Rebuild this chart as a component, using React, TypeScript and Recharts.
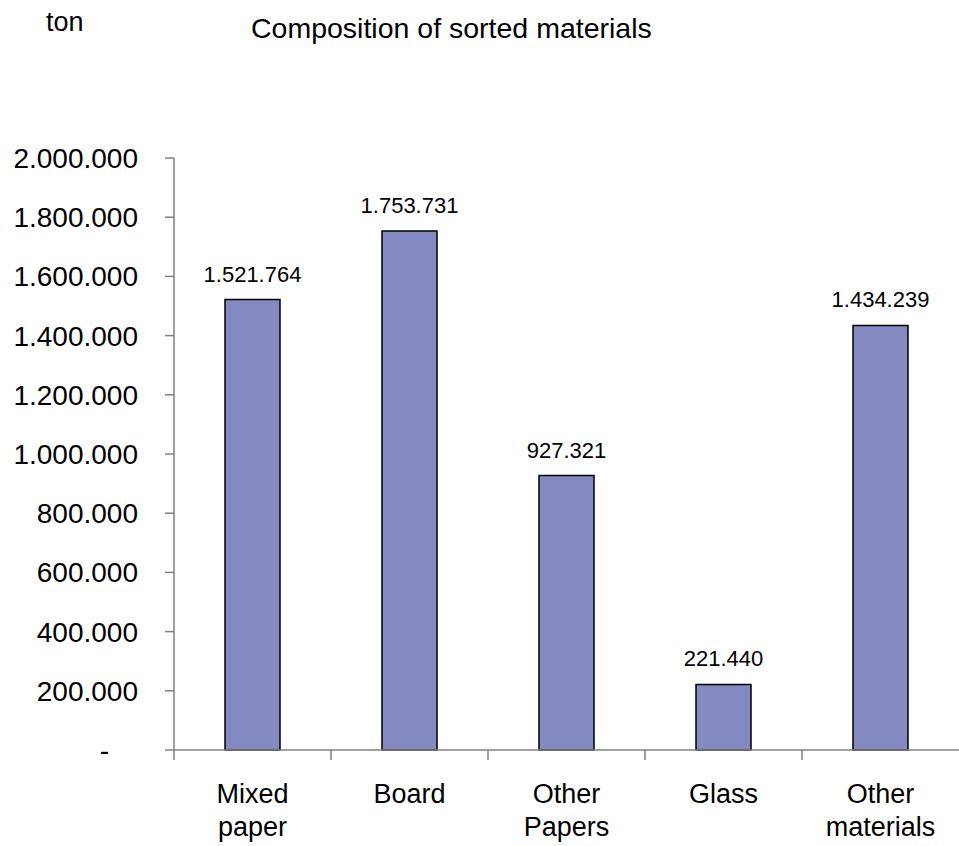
import { BarChart, Bar, XAxis, YAxis, LabelList } from 'recharts';

const categories = ['Mixed\npaper', 'Board', 'Other\nPapers', 'Glass', 'Other\nmaterials'];
const tonnes = [1521764, 1753731, 927321, 221440, 1434239];
const yTicks = [0, 200000, 400000, 600000, 800000, 1000000, 1200000, 1400000, 1600000, 1800000, 2000000];

const data = categories.map((name, i) => ({ name, value: tonnes[i] }));

const FONT = '"Liberation Sans", Arial, sans-serif';

const fmt = (v: number) => (v === 0 ? '-' : Math.round(v).toString().replace(/\B(?=(\d{3})+(?!\d))/g, '.'));

const YTick = ({ x, y, payload }: any) => {
  const v = payload.value as number;
  return (
    <text x={v === 0 ? x - 29 : x} y={y} dy={10} textAnchor="end" fontSize={28} fontFamily={FONT} fill="#000">
      {fmt(v)}
    </text>
  );
};

const XTick = ({ x, y, payload }: any) => {
  const half = payload.offset || 78.5;
  const lines = String(payload.value).split('\n');
  return (
    <g>
      <line x1={x - half} x2={x - half} y1={y - 2} y2={y + 8} stroke="#808080" strokeWidth={1.5} />
      <text x={x} y={y + 51} textAnchor="middle" fontSize={27} fontFamily={FONT} fill="#000">
        {lines.map((l, i) => (
          <tspan key={i} x={x} dy={i === 0 ? 0 : 33}>{l}</tspan>
        ))}
      </text>
    </g>
  );
};

const App = () => {
  return (
    <div style={{ position: 'absolute', left: 0, top: 0, width: 959, height: 846, background: '#fff' }}>
      <div style={{ position: 'absolute', left: 46, top: 7, fontFamily: FONT, fontSize: 27 }}>ton</div>
      <div style={{ position: 'absolute', left: 251, top: 12, fontFamily: FONT, fontSize: 28.5, whiteSpace: 'nowrap' }}>Composition of sorted materials</div>
      <BarChart width={959} height={846} data={data} margin={{ top: 158, right: 0, left: 0, bottom: 0 }} barSize={55}>
        <YAxis
          domain={[0, 2000000]}
          ticks={yTicks}
          width={174}
          interval={0}
          tick={<YTick />}
          tickSize={9}
          tickMargin={27}
          axisLine={{ stroke: '#808080', strokeWidth: 1.5 }}
          tickLine={{ stroke: '#808080', strokeWidth: 1.5 }}
        />
        <XAxis
          dataKey="name"
          height={96}
          interval={0}
          tick={<XTick />}
          tickSize={0}
          tickLine={false}
          axisLine={{ stroke: '#808080', strokeWidth: 1.5 }}
        />
        <Bar dataKey="value" fill="#8489C2" stroke="#000" strokeWidth={1.5} isAnimationActive={false}>
          <LabelList dataKey="value" position="top" offset={18} formatter={(v: any) => fmt(Number(v))} fontSize={22} fontFamily={FONT} fill="#000" />
        </Bar>
      </BarChart>
    </div>
  );
};

export default App;
